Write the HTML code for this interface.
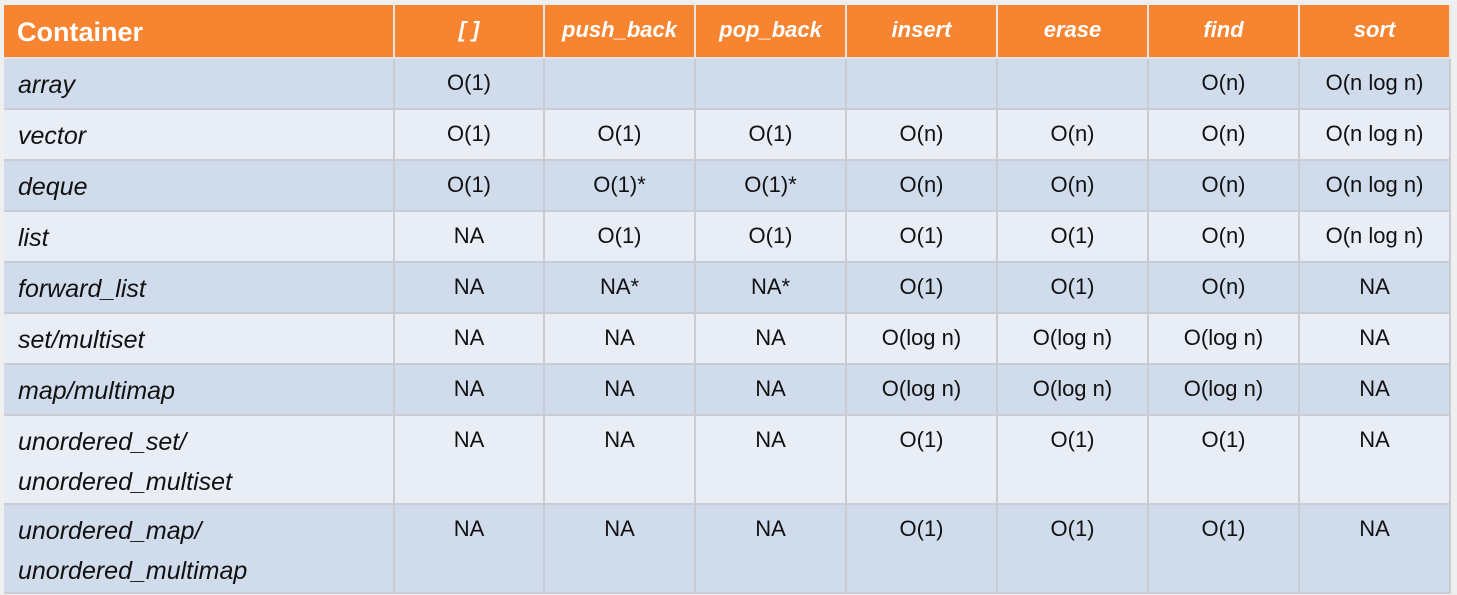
<!DOCTYPE html>
<html><head><meta charset="utf-8"><style>
body{margin:0;width:1457px;height:595px;background:#efefef;position:relative;overflow:hidden;font-family:"Liberation Sans",sans-serif}
.c{position:absolute;box-sizing:border-box;border-right:2px solid #c9cdd3;border-bottom:2px solid #c9cdd3;text-align:center;font-size:22px;color:#111;padding-top:11px;line-height:26px}
.h{background:#f78431;color:#fff;font-weight:bold;font-style:italic;font-size:22px;padding-top:12px;border-color:#e5e5e5}
.l{text-align:left;padding-left:14px;font-style:italic;font-size:25px;line-height:40px;padding-top:6px}
.o{background:#d0dcec}.e{background:#e9edf6}
</style></head><body>
<div id="t"></div>
<script>
const xs=[4,395,545,696,847,998,1149,1300,1451];
const ys=[5,59,110,161,212,263,314,365,416,505,594];
const head=["Container","[ ]","push_back","pop_back","insert","erase","find","sort"];
const rows=[
["array","O(1)","","","","","O(n)","O(n log n)"],
["vector","O(1)","O(1)","O(1)","O(n)","O(n)","O(n)","O(n log n)"],
["deque","O(1)","O(1)*","O(1)*","O(n)","O(n)","O(n)","O(n log n)"],
["list","NA","O(1)","O(1)","O(1)","O(1)","O(n)","O(n log n)"],
["forward_list","NA","NA*","NA*","O(1)","O(1)","O(n)","NA"],
["set/multiset","NA","NA","NA","O(log n)","O(log n)","O(log n)","NA"],
["map/multimap","NA","NA","NA","O(log n)","O(log n)","O(log n)","NA"],
["unordered_set/<br>unordered_multiset","NA","NA","NA","O(1)","O(1)","O(1)","NA"],
["unordered_map/<br>unordered_multimap","NA","NA","NA","O(1)","O(1)","O(1)","NA"]];
let h="";
for(let c=0;c<8;c++){
 let s=c==0?"font-style:normal;font-size:27px;text-align:left;padding-left:13px;padding-top:14px":"";
 h+=`<div class="c h" style="left:${xs[c]}px;top:${ys[0]}px;width:${xs[c+1]-xs[c]}px;height:${ys[1]-ys[0]}px;${s}">${head[c]}</div>`;
}
rows.forEach((r,i)=>{
 for(let c=0;c<8;c++){
  h+=`<div class="c ${i%2?'e':'o'} ${c==0?'l':''}" style="left:${xs[c]}px;top:${ys[i+1]}px;width:${xs[c+1]-xs[c]}px;height:${ys[i+2]-ys[i+1]}px">${r[c]}</div>`;
 }
});
document.getElementById("t").innerHTML=h;
</script>
</body></html>
